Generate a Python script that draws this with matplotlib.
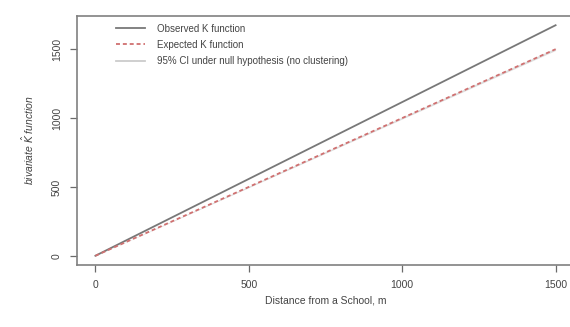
import matplotlib
matplotlib.use("Agg")
import matplotlib.pyplot as plt
from matplotlib.lines import Line2D

plt.rcParams['font.family'] = ['Liberation Sans', 'DejaVu Sans']

distance = [0, 250, 500, 750, 1000, 1250, 1500]
observed_k = [0, 279, 558, 837, 1116, 1395, 1674]
expected_k = [0, 250, 500, 750, 1000, 1250, 1500]
ci_lower = [0, 247, 495, 744, 993, 1242, 1491]
ci_upper = [0, 253, 505, 756, 1007, 1258, 1509]

x_ticks = [0, 500, 1000, 1500]
y_ticks = [0, 500, 1000, 1500]

fig = plt.figure(figsize=(5.7, 3.27), dpi=100)
ax = fig.add_axes([77/570, 62/327, (574-77)/570, (265-16)/327])

grey = '#6a6a6a'
obs_col = '#787878'
exp_col = '#d07070'
ax.fill_between(distance, ci_lower, ci_upper, color='#dedede', lw=0)
ax.plot(distance, observed_k, color=obs_col, lw=1.3)
ax.plot(distance, expected_k, color=exp_col, lw=1.3, ls=(0, (2.2, 1.6)))

ax.set_xlim(-60, 1560)
ax.set_ylim(-67, 1741)
ax.set_xticks(x_ticks)
ax.set_yticks(y_ticks)
ax.tick_params(colors=grey, labelcolor='#444444', labelsize=7.5, length=5, width=0.9, direction='out', pad=6)
for lab in ax.get_yticklabels():
    lab.set_rotation(90)
    lab.set_va('center')
for s in ax.spines.values():
    s.set_color('#808080')
    s.set_linewidth(1.2)

ax.set_xlabel('Distance from a School, m', fontsize=7.5, color='#444444', labelpad=4)
ax.set_ylabel(r'bivariate $\hat{K}$ function', fontsize=7.5, color='#444444', style='italic', labelpad=11)

handles = [Line2D([], [], color=obs_col, lw=1.3),
           Line2D([], [], color=exp_col, lw=1.3, ls=(0, (2.2, 1.6))),
           Line2D([], [], color='#cccccc', lw=1.3)]
labels = ['Observed K function', 'Expected K function',
          '95% CI under null hypothesis (no clustering)']
leg = ax.legend(handles, labels, loc='upper left', bbox_to_anchor=(0.06, 1.005),
                frameon=False, fontsize=7, handlelength=3.0, handletextpad=1.3,
                labelspacing=0.65, labelcolor='#444444')

fig.savefig('out.png', dpi=100)
